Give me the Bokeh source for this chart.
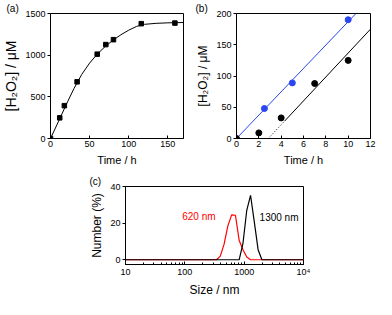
from bokeh.plotting import figure
from bokeh.layouts import column, row
from bokeh.models import Spacer, Label, FixedTicker, LogTicker, BasicTickFormatter
from bokeh.embed import file_html
from bokeh.resources import INLINE

FONT = "Liberation Sans"

# ---- panel (a) data ----
a_time = [0, 11.8, 17.7, 34, 59.7, 70.7, 80.5, 116, 159]
a_conc = [0, 248, 394, 680, 1012, 1127, 1186, 1378, 1385]
a_fit_time = [0, 10, 20, 30, 40, 50, 60, 70, 80, 90, 100, 110, 120, 135, 150, 170]
a_fit_conc = [0, 200, 405, 600, 770, 905, 1015, 1105, 1180, 1245, 1300, 1345, 1370, 1382, 1388, 1392]

# ---- panel (b) data ----
b_blue_time = [2.5, 5, 10]
b_blue_conc = [48, 89, 190]
b_black_time = [0, 2, 4, 7, 10]
b_black_conc = [0, 9, 33, 88, 125]
b_blue_fit_time = [0, 10.7]
b_blue_fit_conc = [0, 200]
b_black_dot_time = [2.85, 4.3]
b_black_dot_conc = [0, 27.7]
b_black_fit_time = [4.3, 12]
b_black_fit_conc = [27.7, 175]

# ---- panel (c) data ----
c_red_size = [10, 342, 396, 459, 531, 615, 712, 825, 955, 1106, 1281, 10000]
c_red_num = [0, 0, 2, 8.5, 18.5, 24.5, 24.3, 10.5, 5.5, 1.5, 0, 0]
c_black_size = [10, 825, 955, 1106, 1281, 1484, 1718, 1990, 10000]
c_black_num = [0, 0, 9, 27, 35.2, 20.5, 5.5, 0, 0]
c_tick_labels = {10: "10", 100: "100", 1000: "1000", 10000: "10⁴"}


def style(p):
    p.grid.visible = False
    p.outline_line_color = "black"
    p.outline_line_alpha = 1
    p.background_fill_color = "white"
    p.border_fill_color = "white"
    for ax in p.axis:
        ax.axis_line_color = "black"
        ax.major_label_text_font = FONT
        ax.major_label_text_font_size = "9px"
        ax.major_label_text_color = "black"
        ax.axis_label_text_font = FONT
        ax.axis_label_text_font_style = "normal"
        ax.axis_label_text_color = "black"
        ax.major_tick_line_color = "black"
        ax.minor_tick_line_color = "black"
        ax.major_label_standoff = 2
        ax.axis_label_standoff = 3
    p.xaxis.major_tick_in = 3
    p.xaxis.major_tick_out = 0
    p.xaxis.minor_tick_in = 0
    p.xaxis.minor_tick_out = 0
    p.yaxis.major_tick_in = 0
    p.yaxis.major_tick_out = 3
    p.yaxis.minor_tick_in = 0
    p.yaxis.minor_tick_out = 0


def panel_label(p, text, offset):
    p.title.text = text
    p.title.align = "left"
    p.title.offset = offset
    p.title.standoff = 0
    p.title.text_font = FONT
    p.title.text_font_size = "10px"
    p.title.text_font_style = "normal"
    p.title.text_color = "black"


# ---------- (a) ----------
pa = figure(width=193, height=168, x_range=(0, 170), y_range=(0, 1500),
            min_border_left=44, min_border_right=10, min_border_top=12, min_border_bottom=26,
            output_backend="svg", toolbar_location=None)
pa.line(a_fit_time, a_fit_conc, line_color="black", line_width=1)
pa.scatter(a_time, a_conc, marker="square", size=4.5, color="black")
style(pa)
pa.xaxis.ticker = FixedTicker(ticks=[0, 50, 100, 150])
pa.yaxis.ticker = FixedTicker(ticks=[0, 500, 1000, 1500])
pa.xaxis.axis_label = "Time / h"
pa.yaxis.axis_label = "[H₂O₂] / μM"
pa.xaxis.axis_label_text_font_size = "11px"
pa.yaxis.axis_label_text_font_size = "14px"
pa.xaxis.axis_label_standoff = 4
panel_label(pa, "(a)", -44)

# ---------- (b) ----------
pb = figure(width=183, height=168, x_range=(0, 12), y_range=(0, 200),
            min_border_left=42, min_border_right=6, min_border_top=12, min_border_bottom=26,
            output_backend="svg", toolbar_location=None)
pb.line(b_blue_fit_time, b_blue_fit_conc, line_color="#2b45f0", line_width=1)
pb.line(b_black_dot_time, b_black_dot_conc, line_color="black", line_width=1, line_dash="1 2")
pb.line(b_black_fit_time, b_black_fit_conc, line_color="black", line_width=1)
pb.scatter(b_blue_time, b_blue_conc, marker="circle", size=6, color="#2b45f0")
pb.scatter(b_black_time, b_black_conc, marker="circle", size=6, color="black")
style(pb)
pb.xaxis.ticker = FixedTicker(ticks=[0, 2, 4, 6, 8, 10, 12])
pb.yaxis.ticker = FixedTicker(ticks=[0, 50, 100, 150, 200])
pb.xaxis.axis_label = "Time / h"
pb.yaxis.axis_label = "[H₂O₂] / μM"
pb.xaxis.axis_label_text_font_size = "11px"
pb.yaxis.axis_label_text_font_size = "12px"
pb.xaxis.axis_label_standoff = 4
panel_label(pb, "(b)", -41)

# ---------- (c) ----------
pc = figure(width=228, height=131, x_axis_type="log", x_range=(10, 10000), y_range=(-2.6, 40),
            min_border_left=40, min_border_right=10, min_border_top=18, min_border_bottom=30,
            output_backend="svg", toolbar_location=None)
pc.line(c_red_size, c_red_num, line_color="red", line_width=1.2)
pc.line(c_black_size, c_black_num, line_color="black", line_width=1.2)
pc.add_layout(Label(x=330, y=23.5, text="620 nm", text_align="right", text_baseline="middle",
                    text_font=FONT, text_font_size="10px", text_color="red"))
pc.add_layout(Label(x=1820, y=23.3, text="1300 nm", text_align="left", text_baseline="middle",
                    text_font=FONT, text_font_size="10px", text_color="black"))
style(pc)
pc.xaxis.ticker = LogTicker(num_minor_ticks=10)
pc.xaxis.formatter = BasicTickFormatter(use_scientific=False)
pc.xaxis.minor_tick_in = 2
pc.xaxis.major_label_overrides = c_tick_labels
pc.yaxis.ticker = FixedTicker(ticks=[0, 20, 40])
pc.xaxis.axis_label = "Size / nm"
pc.yaxis.axis_label = "Number (%)"
pc.xaxis.axis_label_text_font_size = "12px"
pc.yaxis.axis_label_text_font_size = "12px"
panel_label(pc, "(c)", -36)

layout = column(row(pa, pb), row(Spacer(width=85, height=131), pc))

open("out.html", "w").write(file_html(layout, INLINE))
